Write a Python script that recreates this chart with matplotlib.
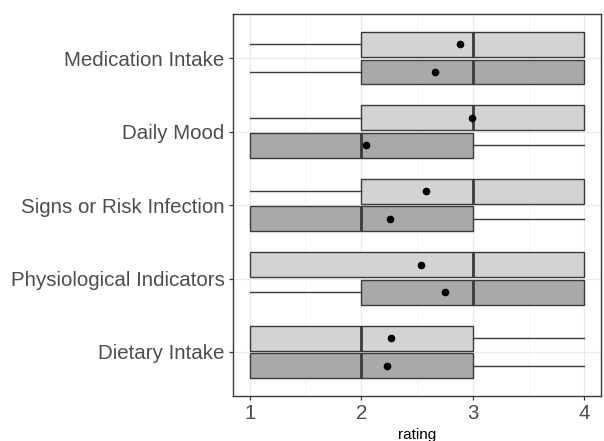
import matplotlib
matplotlib.use("Agg")
import matplotlib.pyplot as plt
from matplotlib.ticker import MultipleLocator

plt.rcParams["font.family"] = ["Liberation Sans", "DejaVu Sans"]

# Categories from bottom to top
categories = ["Dietary Intake", "Physiological Indicators", "Signs or Risk Infection",
              "Daily Mood", "Medication Intake"]

# Five-number summaries (min, q1, median, q3, max) and means per group
light_min = [1, 1, 1, 1, 1]
light_q1 = [1, 1, 2, 2, 2]
light_med = [2, 3, 3, 3, 3]
light_q3 = [3, 4, 4, 4, 4]
light_max = [4, 4, 4, 4, 4]
light_mean = [2.27, 2.54, 2.58, 2.99, 2.89]

dark_min = [1, 1, 1, 1, 1]
dark_q1 = [1, 2, 1, 1, 2]
dark_med = [2, 3, 2, 2, 3]
dark_q3 = [3, 4, 3, 3, 4]
dark_max = [4, 4, 4, 4, 4]
dark_mean = [2.23, 2.75, 2.26, 2.04, 2.66]

x_ticks = [1, 2, 3, 4]


def make_stats(mins, q1s, meds, q3s, maxs, means):
    return [dict(whislo=a, q1=b, med=c, q3=d, whishi=e, mean=m, fliers=[])
            for a, b, c, d, e, m in zip(mins, q1s, meds, q3s, maxs, means)]


fig = plt.figure(figsize=(6.04, 4.41), dpi=100)
ax = fig.add_axes([0.3858, 0.102, 0.6092, 0.866])

edge = "#3A3A3A"
dodge = 0.1875
box_w = 0.3375
base = list(range(1, len(categories) + 1))

groups = [
    (make_stats(light_min, light_q1, light_med, light_q3, light_max, light_mean), "#D3D3D3", dodge),
    (make_stats(dark_min, dark_q1, dark_med, dark_q3, dark_max, dark_mean), "#A9A9A9", -dodge),
]

for stats, fill, off in groups:
    ax.bxp(stats, positions=[p + off for p in base], widths=box_w,
           orientation="horizontal", patch_artist=True, showcaps=False,
           showfliers=False, showmeans=True,
           boxprops=dict(facecolor=fill, edgecolor=edge, linewidth=1.0),
           whiskerprops=dict(color=edge, linewidth=1.0),
           medianprops=dict(color=edge, linewidth=2.0),
           meanprops=dict(marker="o", markerfacecolor="black",
                          markeredgecolor="black", markersize=4.5),
           manage_ticks=False, zorder=3)

ax.set_xlim(0.85, 4.15)
ax.set_ylim(0.4, len(categories) + 0.6)
ax.set_xticks(x_ticks)
ax.set_xticklabels([str(t) for t in x_ticks])
ax.xaxis.set_minor_locator(MultipleLocator(0.5))
ax.set_yticks(base)
ax.set_yticklabels(categories)

ax.grid(True, which="major", color="#EBEBEB", linewidth=0.9, zorder=0)
ax.grid(True, which="minor", axis="x", color="#EBEBEB", linewidth=0.5, zorder=0)
ax.set_axisbelow(True)

for s in ax.spines.values():
    s.set_color(edge)
    s.set_linewidth(1.0)

ax.tick_params(axis="both", which="major", colors=edge, length=3, width=0.9,
               labelsize=14.8, labelcolor="#4D4D4D", pad=3)
ax.tick_params(axis="x", which="minor", length=0)

ax.set_xlabel("rating", fontsize=11, color="black", labelpad=3)

fig.savefig("out.png", dpi=100)
